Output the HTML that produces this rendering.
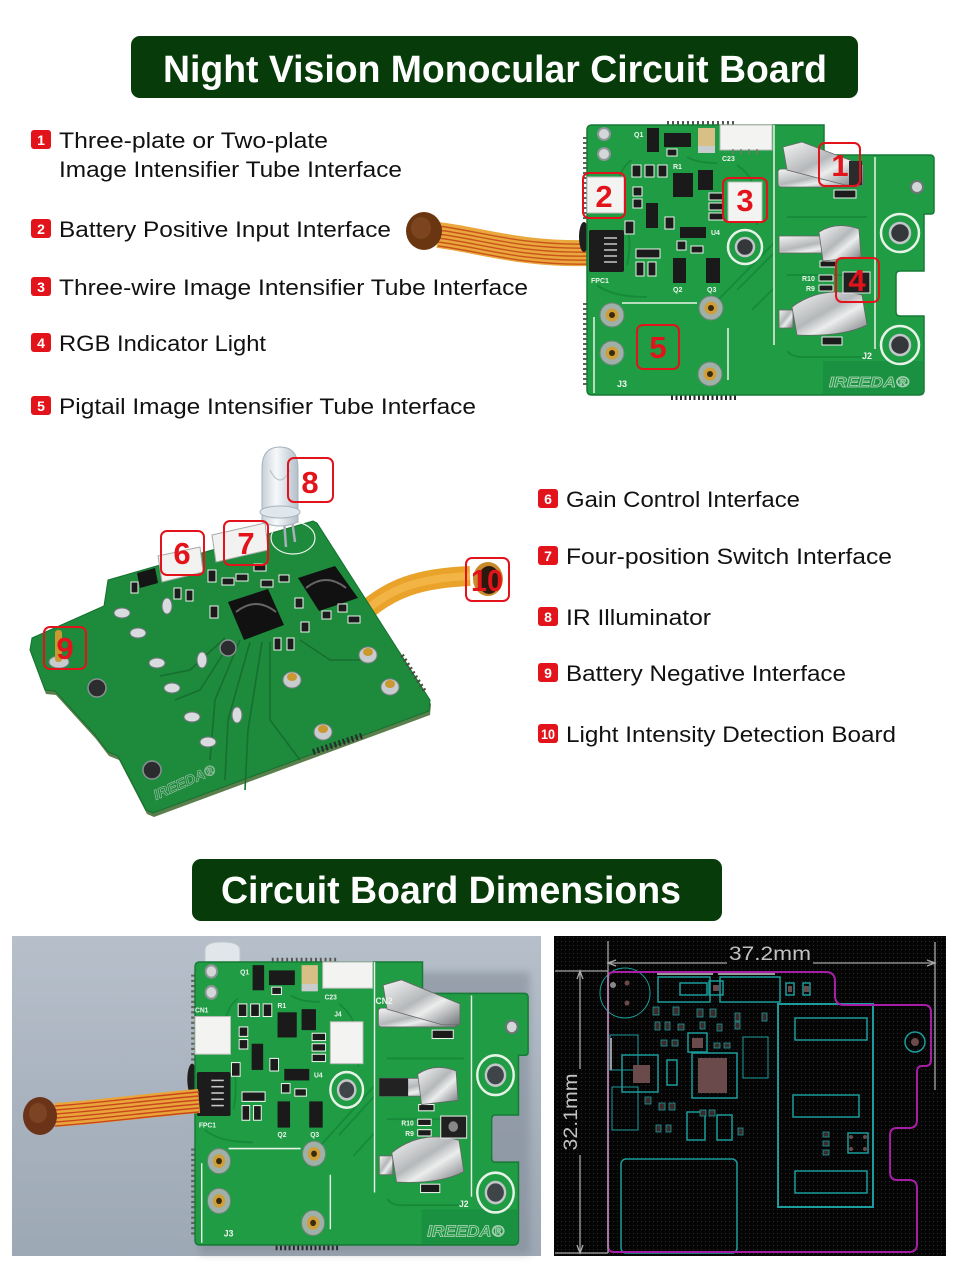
<!DOCTYPE html>
<html><head><meta charset="utf-8"><style>
html,body{margin:0;padding:0;background:#fff;}
svg{display:block;}
</style></head><body>
<svg width="960" height="1280" viewBox="0 0 960 1280" xmlns="http://www.w3.org/2000/svg">
<defs>
<linearGradient id="metal" x1="0" y1="0" x2="1" y2="1">
<stop offset="0" stop-color="#f4f4f4"/><stop offset=".45" stop-color="#b5b8ba"/><stop offset=".62" stop-color="#eceded"/><stop offset="1" stop-color="#72767a"/>
</linearGradient>
<linearGradient id="photo" x1="0" y1="0" x2="0" y2="1"><stop offset="0" stop-color="#b6bfca"/><stop offset="1" stop-color="#9da8b5"/></linearGradient>
<linearGradient id="led" x1="0" y1="0" x2="1" y2="0"><stop offset="0" stop-color="#c6d0d8"/><stop offset=".4" stop-color="#f6f9fb"/><stop offset="1" stop-color="#b3bfc9"/></linearGradient>
<pattern id="grid" width="4" height="4" patternUnits="userSpaceOnUse"><rect width="4" height="4" fill="#050505"/><rect x="1" y="1" width="1" height="1" fill="#2b2b2b"/></pattern>
<filter id="blur"><feGaussianBlur stdDeviation="4"/></filter>
</defs>

<!-- ===== Title 1 ===== -->
<rect x="131" y="36" width="727" height="62" rx="9" fill="#073b09"/>
<text x="163" y="82" font-family="Liberation Sans, sans-serif" font-weight="bold" font-size="38" fill="#fff" textLength="664" lengthAdjust="spacingAndGlyphs">Night Vision Monocular Circuit Board</text>

<!-- ===== Labels ===== -->
<g font-family="Liberation Sans, sans-serif" font-weight="bold" font-size="14" fill="#fff" text-anchor="middle">
<rect x="31" y="130" width="20" height="19" rx="3" fill="#e3131b"/><text x="41" y="145">1</text>
<rect x="31" y="219" width="20" height="19" rx="3" fill="#e3131b"/><text x="41" y="234">2</text>
<rect x="31" y="277" width="20" height="19" rx="3" fill="#e3131b"/><text x="41" y="292">3</text>
<rect x="31" y="333" width="20" height="19" rx="3" fill="#e3131b"/><text x="41" y="348">4</text>
<rect x="31" y="396" width="20" height="19" rx="3" fill="#e3131b"/><text x="41" y="411">5</text>
<rect x="538" y="489" width="20" height="19" rx="3" fill="#e3131b"/><text x="548" y="504">6</text>
<rect x="538" y="546" width="20" height="19" rx="3" fill="#e3131b"/><text x="548" y="561">7</text>
<rect x="538" y="607" width="20" height="19" rx="3" fill="#e3131b"/><text x="548" y="622">8</text>
<rect x="538" y="663" width="20" height="19" rx="3" fill="#e3131b"/><text x="548" y="678">9</text>
<rect x="538" y="724" width="20" height="19" rx="3" fill="#e3131b"/><text x="548" y="739" textLength="14" lengthAdjust="spacingAndGlyphs">10</text>
</g>
<g font-family="Liberation Sans, sans-serif" font-size="22" fill="#111">
<text x="59" y="148" textLength="269" lengthAdjust="spacingAndGlyphs">Three-plate or Two-plate</text>
<text x="59" y="177" textLength="343" lengthAdjust="spacingAndGlyphs">Image Intensifier Tube Interface</text>
<text x="59" y="237" textLength="332" lengthAdjust="spacingAndGlyphs">Battery Positive Input Interface</text>
<text x="59" y="295" textLength="469" lengthAdjust="spacingAndGlyphs">Three-wire Image Intensifier Tube Interface</text>
<text x="59" y="351" textLength="207" lengthAdjust="spacingAndGlyphs">RGB Indicator Light</text>
<text x="59" y="414" textLength="417" lengthAdjust="spacingAndGlyphs">Pigtail Image Intensifier Tube Interface</text>
<text x="566" y="507" textLength="234" lengthAdjust="spacingAndGlyphs">Gain Control Interface</text>
<text x="566" y="564" textLength="326" lengthAdjust="spacingAndGlyphs">Four-position Switch Interface</text>
<text x="566" y="625" textLength="145" lengthAdjust="spacingAndGlyphs">IR Illuminator</text>
<text x="566" y="681" textLength="280" lengthAdjust="spacingAndGlyphs">Battery Negative Interface</text>
<text x="566" y="742" textLength="330" lengthAdjust="spacingAndGlyphs">Light Intensity Detection Board</text>
</g>

<!-- ===== Top board FPC ===== -->
<path d="M438,235 C480,240 520,255 592,253" fill="none" stroke="#eaa73c" stroke-width="26"/>
<g fill="none" stroke="#c9541c" stroke-width="1.4">
<path d="M438,226 C480,231 520,246 592,244"/><path d="M438,230 C480,235 520,250 592,248"/><path d="M438,234 C480,239 520,254 592,252"/><path d="M438,238 C480,243 520,258 592,256"/><path d="M438,242 C480,247 520,262 592,260"/><path d="M438,246 C480,251 520,266 592,264"/>
</g>
<ellipse cx="424" cy="231" rx="18" ry="19" fill="#6a3612"/>
<ellipse cx="421" cy="228" rx="10" ry="11" fill="#7c4520"/>

<!-- ===== Top board ===== -->
<g transform="translate(587,125)">
<line x1="-2" y1="12" x2="-2" y2="95" stroke="#5f6458" stroke-width="4" stroke-dasharray="2 3"/>
<line x1="-2" y1="178" x2="-2" y2="262" stroke="#5f6458" stroke-width="4" stroke-dasharray="2 3"/>
<ellipse cx="-3" cy="112" rx="5" ry="15" fill="#1e1e1e"/>
<line x1="80" y1="-2" x2="150" y2="-2" stroke="#555" stroke-width="4" stroke-dasharray="2 3"/>
<line x1="84" y1="272" x2="150" y2="272" stroke="#2a2a2a" stroke-width="6" stroke-dasharray="2 2.5"/>
<path d="M5,0 H237 V27 Q237,30 240,30 H343 Q347,30 347,34 V86 Q347,89 344,89 H337 V146 H313 Q309,146 309,150 V187 Q309,191 313,191 H337 V265 Q337,270 332,270 H5 Q0,270 0,265 V5 Q0,0 5,0 Z" fill="#1f9c44" stroke="#177a35" stroke-width="1.5"/>
<path d="M236,236 H336 V265 Q336,269 332,269 H236 Z" fill="#1a9140"/>
<g fill="none" stroke="#168a3a" stroke-width="1.8">
<path d="M150,165 L187,128"/><path d="M128,178 L187,118"/><path d="M165,185 L187,163"/>
<path d="M200,150 H280"/><path d="M200,226 Q205,232 215,232 H282"/><path d="M200,92 H280"/>
<path d="M30,60 Q35,40 45,35"/><path d="M10,160 Q25,172 60,172"/><path d="M100,32 Q110,38 130,38"/>
<path d="M150,40 Q165,50 170,70 V100"/><path d="M40,100 Q45,120 40,140"/>
</g>
<g fill="none" stroke="#e8f3e8" stroke-width="1.5">
<path d="M187,0 V220"/><path d="M288,32 V224"/><path d="M35,178 H110"/><path d="M7,192 V268"/><path d="M141,203 V255"/>
<circle cx="313" cy="108" r="19" stroke-width="2.5"/><circle cx="313" cy="220" r="19" stroke-width="2.5"/><circle cx="158" cy="122" r="17" stroke-width="2.5"/>
</g>
<circle cx="313" cy="108" r="10" fill="#34383a" stroke="#c3c6c8" stroke-width="2.5"/>
<circle cx="313" cy="220" r="10" fill="#34383a" stroke="#c3c6c8" stroke-width="2.5"/>
<circle cx="158" cy="122" r="9" fill="#34383a" stroke="#c3c6c8" stroke-width="2.5"/>
<circle cx="17" cy="9" r="6" fill="#d4d7d8" stroke="#8e9597" stroke-width="2"/>
<circle cx="17" cy="29" r="6" fill="#d4d7d8" stroke="#8e9597" stroke-width="2"/>
<circle cx="330" cy="62" r="6" fill="#d4d7d8" stroke="#6e7577" stroke-width="2"/>
<rect x="60" y="3" width="12" height="24" fill="#1a1a1a"/>
<rect x="77" y="8" width="27" height="14" fill="#1a1a1a"/>
<rect x="111" y="3" width="17" height="18" fill="#d7bf85"/><rect x="111" y="21" width="17" height="7" fill="#c9cccf"/>
<rect x="133" y="0" width="52" height="25" fill="#f3f3f1" stroke="#b9bbb8"/>
<g stroke="#777" stroke-width="1.5"><line x1="146" y1="24" x2="146" y2="29"/><line x1="154" y1="24" x2="154" y2="29"/><line x1="162" y1="24" x2="162" y2="29"/><line x1="170" y1="24" x2="170" y2="29"/></g>
<rect x="0" y="52" width="37" height="36" fill="#f3f3f1" stroke="#b9bbb8"/>
<rect x="141" y="57" width="34" height="40" fill="#f3f3f1" stroke="#b9bbb8"/>
<rect x="2" y="105" width="35" height="42" rx="2" fill="#1c1c1c"/>
<g stroke="#c8c8c8" stroke-width="1.5"><line x1="17" y1="113" x2="30" y2="113"/><line x1="17" y1="119" x2="30" y2="119"/><line x1="17" y1="125" x2="30" y2="125"/><line x1="17" y1="131" x2="30" y2="131"/><line x1="17" y1="137" x2="30" y2="137"/></g>
<g fill="#1a1a1a">
<rect x="86" y="48" width="20" height="24"/><rect x="111" y="45" width="15" height="20"/><rect x="59" y="78" width="12" height="25"/><rect x="93" y="102" width="26" height="11"/><rect x="86" y="133" width="13" height="25"/><rect x="119" y="133" width="14" height="25"/>
</g>
<g fill="#1b1b1b" stroke="#eef5ee" stroke-width="1">
<rect x="45" y="40" width="9" height="12"/><rect x="58" y="40" width="9" height="12"/><rect x="71" y="40" width="9" height="12"/>
<rect x="46" y="62" width="9" height="9"/><rect x="46" y="74" width="9" height="9"/>
<rect x="122" y="68" width="14" height="7"/><rect x="122" y="78" width="14" height="7"/><rect x="122" y="88" width="14" height="7"/>
<rect x="38" y="96" width="9" height="13"/><rect x="78" y="92" width="9" height="12"/>
<rect x="49" y="124" width="24" height="9"/><rect x="49" y="137" width="8" height="14"/><rect x="61" y="137" width="8" height="14"/>
<rect x="104" y="121" width="12" height="7"/><rect x="90" y="116" width="9" height="9"/><rect x="80" y="24" width="10" height="7"/>
<rect x="232" y="150" width="14" height="6"/><rect x="232" y="160" width="14" height="6"/><rect x="232" y="170" width="14" height="6"/>
<rect x="247" y="65" width="22" height="8"/><rect x="233" y="136" width="16" height="6"/><rect x="235" y="212" width="20" height="8"/>
</g>
<rect x="191" y="44" width="82" height="18" rx="3" fill="url(#metal)" stroke="#666" stroke-width=".8"/>
<path d="M196,22 L215,17 L276,40 L276,60 L258,60 L200,45 Z" fill="url(#metal)" stroke="#666" stroke-width=".8"/>
<rect x="262" y="36" width="13" height="24" fill="#2b2b2b"/>
<rect x="192" y="111" width="80" height="17" fill="url(#metal)" stroke="#666" stroke-width=".8"/>
<path d="M232,107 Q250,96 272,104 L274,132 L236,136 Z" fill="url(#metal)" stroke="#666" stroke-width=".8"/>
<rect x="192" y="185" width="14" height="18" fill="url(#metal)" stroke="#666" stroke-width=".8"/>
<path d="M205,182 Q235,160 275,170 L280,200 Q255,212 210,210 Z" fill="url(#metal)" stroke="#666" stroke-width=".8"/>
<rect x="256" y="147" width="27" height="21" fill="#202020" stroke="#eee"/>
<g>
<circle cx="25" cy="190" r="12" fill="#9fb0a8" stroke="#6f8479"/><circle cx="25" cy="190" r="6.5" fill="#cf9f3a"/><circle cx="25" cy="190" r="3" fill="#3a2a10"/>
<circle cx="124" cy="183" r="12" fill="#9fb0a8" stroke="#6f8479"/><circle cx="124" cy="183" r="6.5" fill="#cf9f3a"/><circle cx="124" cy="183" r="3" fill="#3a2a10"/>
<circle cx="25" cy="228" r="12" fill="#9fb0a8" stroke="#6f8479"/><circle cx="25" cy="228" r="6.5" fill="#cf9f3a"/><circle cx="25" cy="228" r="3" fill="#3a2a10"/>
<circle cx="123" cy="249" r="12" fill="#9fb0a8" stroke="#6f8479"/><circle cx="123" cy="249" r="6.5" fill="#cf9f3a"/><circle cx="123" cy="249" r="3" fill="#3a2a10"/>
</g>
<g font-family="Liberation Sans, sans-serif" font-weight="bold" font-size="7" fill="#eef5ee">
<text x="47" y="12">Q1</text><text x="135" y="36">C23</text><text x="86" y="44">R1</text><text x="4" y="158">FPC1</text><text x="86" y="167">Q2</text><text x="120" y="167">Q3</text><text x="124" y="110">U4</text><text x="215" y="156">R10</text><text x="219" y="166">R9</text>
<text x="30" y="262" font-size="9">J3</text><text x="275" y="234" font-size="9">J2</text>
</g>
<text x="242" y="262" font-family="Liberation Sans, sans-serif" font-style="italic" font-weight="bold" font-size="15" fill="#1f9c44" stroke="#b8d6bf" stroke-width=".7" textLength="80" lengthAdjust="spacingAndGlyphs">IREEDA®</text>
</g>

<!-- Top board number boxes -->
<g fill="none" stroke="#e3131b" stroke-width="2">
<rect x="819" y="143" width="41" height="43" rx="6"/><rect x="583" y="173" width="42" height="45" rx="6"/><rect x="723" y="178" width="44" height="44" rx="6"/><rect x="836" y="258" width="43" height="44" rx="6"/><rect x="637" y="325" width="42" height="44" rx="6"/>
</g>

<!-- ===== Middle board ===== -->
<path d="M362,614 C390,588 420,578 470,576" fill="none" stroke="#e9a22a" stroke-width="20"/>
<path d="M362,614 C390,588 420,578 470,576" fill="none" stroke="#f2b545" stroke-width="8"/>
<ellipse cx="488" cy="579" rx="15" ry="17" fill="#c98a2a"/>
<ellipse cx="489" cy="580" rx="11" ry="14" fill="#2a1a0e"/>
<polygon points="109,584 314,525 318,527 431,704 430,715 154,817 147,814 119,760 109,756 96,739 56,695 46,694 31,654 33,642 105,610" fill="#5a7f4c"/>
<polygon points="108,580 313,521 317,523 430,700 429,711 153,813 146,810 118,756 108,752 95,735 55,691 45,690 30,650 32,638 104,606" fill="#1d8a3c" stroke="#16702f" stroke-width="1"/>
<line x1="402" y1="655" x2="426" y2="693" stroke="#4a4a40" stroke-width="4" stroke-dasharray="2 3"/>
<line x1="313" y1="752" x2="364" y2="735" stroke="#2a2a2a" stroke-width="6" stroke-dasharray="2 2.5"/>
<g fill="none" stroke="#166f2f" stroke-width="1.6">
<path d="M240,640 L215,700 L210,760"/><path d="M250,642 L228,720 L225,780"/><path d="M262,642 L248,730 L245,790"/>
<path d="M232,640 L200,690 L175,700"/><path d="M225,638 L190,670 L160,676"/><path d="M270,642 L270,720 L300,760"/>
<path d="M300,640 L330,660 L360,660"/>
</g>
<ellipse cx="293" cy="538" rx="22" ry="16" fill="none" stroke="#eef5ee" stroke-width="1.2"/>
<line x1="284" y1="520" x2="286" y2="547" stroke="#a9b0b8" stroke-width="2.5"/>
<line x1="292" y1="520" x2="295" y2="542" stroke="#a9b0b8" stroke-width="2.5"/>
<path d="M262,522 V468 Q262,447 280,447 Q298,447 298,468 V522 Q280,530 262,522 Z" fill="url(#led)" stroke="#a7b3bc"/>
<ellipse cx="280" cy="512" rx="20" ry="6" fill="#dfe7ec" stroke="#a7b3bc"/>
<path d="M270,470 Q280,490 290,470" fill="none" stroke="#b5c0c8"/>
<polygon points="158,556 200,547 203,572 162,582" fill="#f2f2f0" stroke="#a8aaa8"/>
<polygon points="212,535 265,523 268,550 216,562" fill="#f2f2f0" stroke="#a8aaa8"/>
<polygon points="137,573 155,568 158,583 140,588" fill="#151515"/>
<polygon points="228,602 268,589 284,625 244,640" fill="#111"/>
<path d="M236,612 Q256,596 276,612" fill="none" stroke="#666" stroke-width="2"/>
<polygon points="298,578 335,566 358,598 319,611" fill="#111"/>
<path d="M306,588 Q326,572 346,588" fill="none" stroke="#666" stroke-width="2"/>
<g fill="#1b1b1b" stroke="#eef5ee" stroke-width="1">
<rect x="131" y="582" width="7" height="11"/><rect x="174" y="588" width="7" height="11"/><rect x="186" y="590" width="7" height="11"/><rect x="208" y="570" width="8" height="12"/><rect x="222" y="578" width="12" height="7"/><rect x="236" y="574" width="12" height="7"/><rect x="254" y="564" width="12" height="7"/><rect x="261" y="580" width="12" height="7"/><rect x="210" y="606" width="8" height="12"/><rect x="274" y="638" width="7" height="12"/><rect x="287" y="638" width="7" height="12"/><rect x="279" y="575" width="10" height="7"/><rect x="295" y="598" width="8" height="10"/><rect x="301" y="622" width="8" height="10"/><rect x="322" y="611" width="9" height="8"/><rect x="338" y="604" width="9" height="8"/><rect x="348" y="616" width="12" height="7"/>
</g>
<circle cx="97" cy="688" r="9" fill="#2a2c2e" stroke="#8a9094" stroke-width="1.5"/>
<circle cx="228" cy="648" r="8" fill="#2a2c2e" stroke="#8a9094" stroke-width="1.5"/>
<circle cx="152" cy="770" r="9" fill="#2a2c2e" stroke="#8a9094" stroke-width="1.5"/>
<g fill="#d9dcdf" stroke="#6f777a" stroke-width="1">
<ellipse cx="122" cy="613" rx="8" ry="5"/><ellipse cx="167" cy="606" rx="5" ry="8"/><ellipse cx="138" cy="633" rx="8" ry="5"/><ellipse cx="157" cy="663" rx="8" ry="5"/><ellipse cx="202" cy="660" rx="5" ry="8"/><ellipse cx="172" cy="688" rx="8" ry="5"/><ellipse cx="192" cy="717" rx="8" ry="5"/><ellipse cx="237" cy="715" rx="5" ry="8"/><ellipse cx="208" cy="742" rx="8" ry="5"/>
</g>
<g>
<ellipse cx="368" cy="655" rx="9" ry="8" fill="#c8ccce" stroke="#7b8285"/><ellipse cx="368" cy="652" rx="5" ry="4" fill="#c9982f"/>
<ellipse cx="292" cy="680" rx="9" ry="8" fill="#c8ccce" stroke="#7b8285"/><ellipse cx="292" cy="677" rx="5" ry="4" fill="#c9982f"/>
<ellipse cx="390" cy="687" rx="9" ry="8" fill="#c8ccce" stroke="#7b8285"/><ellipse cx="390" cy="684" rx="5" ry="4" fill="#c9982f"/>
<ellipse cx="323" cy="732" rx="9" ry="8" fill="#c8ccce" stroke="#7b8285"/><ellipse cx="323" cy="729" rx="5" ry="4" fill="#c9982f"/>
<ellipse cx="59" cy="662" rx="10" ry="6" fill="#c8ccce" stroke="#7b8285"/><rect x="55" y="630" width="7" height="32" rx="3" fill="#c9982f"/>
</g>
<text transform="translate(156,800) rotate(-24)" font-family="Liberation Sans, sans-serif" font-style="italic" font-weight="bold" font-size="14" fill="#1d8a3c" stroke="#9fc2a8" stroke-width=".6" textLength="66" lengthAdjust="spacingAndGlyphs">IREEDA®</text>

<!-- Middle board number boxes (on top) -->
<g fill="none" stroke="#e3131b" stroke-width="2">
<rect x="161" y="531" width="43" height="44" rx="6"/><rect x="224" y="521" width="44" height="44" rx="6"/><rect x="288" y="458" width="45" height="44" rx="6"/><rect x="44" y="627" width="42" height="42" rx="6"/><rect x="466" y="558" width="43" height="43" rx="6"/>
</g>

<!-- Number digits -->
<g font-family="Liberation Sans, sans-serif" font-weight="bold" font-size="31" fill="#e3131b" text-anchor="middle">
<text x="840" y="176">1</text><text x="604" y="207">2</text><text x="745" y="211">3</text><text x="857" y="291">4</text><text x="658" y="358">5</text>
<text x="182" y="564">6</text><text x="246" y="554">7</text><text x="310" y="493">8</text><text x="65" y="659">9</text><text x="487" y="591" textLength="32" lengthAdjust="spacingAndGlyphs">10</text>
</g>

<!-- ===== Title 2 ===== -->
<rect x="192" y="859" width="530" height="62" rx="9" fill="#073b09"/>
<text x="221" y="903" font-family="Liberation Sans, sans-serif" font-weight="bold" font-size="38" fill="#fff" textLength="460" lengthAdjust="spacingAndGlyphs">Circuit Board Dimensions</text>

<!-- ===== Bottom photo ===== -->
<rect x="12" y="936" width="529" height="320" fill="url(#photo)"/>
<rect x="200" y="972" width="330" height="282" fill="#7c8591" opacity=".5" filter="url(#blur)"/>
<path d="M205,962 V950 Q205,942 222,942 Q240,942 240,950 V962 Z" fill="#e1e6ea" stroke="#c0c8cf"/>
<g transform="translate(195,962) scale(0.96,1.048)">
<line x1="-2" y1="12" x2="-2" y2="95" stroke="#5f6458" stroke-width="4" stroke-dasharray="2 3"/>
<line x1="-2" y1="178" x2="-2" y2="262" stroke="#5f6458" stroke-width="4" stroke-dasharray="2 3"/>
<ellipse cx="-3" cy="112" rx="5" ry="15" fill="#1e1e1e"/>
<line x1="80" y1="-2" x2="150" y2="-2" stroke="#555" stroke-width="4" stroke-dasharray="2 3"/>
<line x1="84" y1="272" x2="150" y2="272" stroke="#2a2a2a" stroke-width="6" stroke-dasharray="2 2.5"/>
<path d="M5,0 H237 V27 Q237,30 240,30 H343 Q347,30 347,34 V86 Q347,89 344,89 H337 V146 H313 Q309,146 309,150 V187 Q309,191 313,191 H337 V265 Q337,270 332,270 H5 Q0,270 0,265 V5 Q0,0 5,0 Z" fill="#1f9c44" stroke="#177a35" stroke-width="1.5"/>
<path d="M236,236 H336 V265 Q336,269 332,269 H236 Z" fill="#1a9140"/>
<g fill="none" stroke="#168a3a" stroke-width="1.8">
<path d="M150,165 L187,128"/><path d="M128,178 L187,118"/><path d="M165,185 L187,163"/>
<path d="M200,150 H280"/><path d="M200,226 Q205,232 215,232 H282"/><path d="M200,92 H280"/>
<path d="M30,60 Q35,40 45,35"/><path d="M10,160 Q25,172 60,172"/><path d="M100,32 Q110,38 130,38"/>
<path d="M150,40 Q165,50 170,70 V100"/><path d="M40,100 Q45,120 40,140"/>
</g>
<g fill="none" stroke="#e8f3e8" stroke-width="1.5">
<path d="M187,0 V220"/><path d="M288,32 V224"/><path d="M35,178 H110"/><path d="M7,192 V268"/><path d="M141,203 V255"/>
<circle cx="313" cy="108" r="19" stroke-width="2.5"/><circle cx="313" cy="220" r="19" stroke-width="2.5"/><circle cx="158" cy="122" r="17" stroke-width="2.5"/>
</g>
<circle cx="313" cy="108" r="10" fill="#3f4448" stroke="#c3c6c8" stroke-width="2.5"/>
<circle cx="313" cy="220" r="10" fill="#3f4448" stroke="#c3c6c8" stroke-width="2.5"/>
<circle cx="158" cy="122" r="9" fill="#3f4448" stroke="#c3c6c8" stroke-width="2.5"/>
<circle cx="17" cy="9" r="6" fill="#d4d7d8" stroke="#8e9597" stroke-width="2"/>
<circle cx="17" cy="29" r="6" fill="#d4d7d8" stroke="#8e9597" stroke-width="2"/>
<circle cx="330" cy="62" r="6" fill="#d4d7d8" stroke="#6e7577" stroke-width="2"/>
<rect x="60" y="3" width="12" height="24" fill="#1a1a1a"/>
<rect x="77" y="8" width="27" height="14" fill="#1a1a1a"/>
<rect x="111" y="3" width="17" height="18" fill="#d7bf85"/><rect x="111" y="21" width="17" height="7" fill="#c9cccf"/>
<rect x="133" y="0" width="52" height="25" fill="#f3f3f1" stroke="#b9bbb8"/>
<rect x="0" y="52" width="37" height="36" fill="#f3f3f1" stroke="#b9bbb8"/>
<rect x="141" y="57" width="34" height="40" fill="#f3f3f1" stroke="#b9bbb8"/>
<rect x="2" y="105" width="35" height="42" rx="2" fill="#1c1c1c"/>
<g stroke="#c8c8c8" stroke-width="1.5"><line x1="17" y1="113" x2="30" y2="113"/><line x1="17" y1="119" x2="30" y2="119"/><line x1="17" y1="125" x2="30" y2="125"/><line x1="17" y1="131" x2="30" y2="131"/><line x1="17" y1="137" x2="30" y2="137"/></g>
<g fill="#1a1a1a">
<rect x="86" y="48" width="20" height="24"/><rect x="111" y="45" width="15" height="20"/><rect x="59" y="78" width="12" height="25"/><rect x="93" y="102" width="26" height="11"/><rect x="86" y="133" width="13" height="25"/><rect x="119" y="133" width="14" height="25"/>
</g>
<g fill="#1b1b1b" stroke="#eef5ee" stroke-width="1">
<rect x="45" y="40" width="9" height="12"/><rect x="58" y="40" width="9" height="12"/><rect x="71" y="40" width="9" height="12"/>
<rect x="46" y="62" width="9" height="9"/><rect x="46" y="74" width="9" height="9"/>
<rect x="122" y="68" width="14" height="7"/><rect x="122" y="78" width="14" height="7"/><rect x="122" y="88" width="14" height="7"/>
<rect x="38" y="96" width="9" height="13"/><rect x="78" y="92" width="9" height="12"/>
<rect x="49" y="124" width="24" height="9"/><rect x="49" y="137" width="8" height="14"/><rect x="61" y="137" width="8" height="14"/>
<rect x="104" y="121" width="12" height="7"/><rect x="90" y="116" width="9" height="9"/><rect x="80" y="24" width="10" height="7"/>
<rect x="232" y="150" width="14" height="6"/><rect x="232" y="160" width="14" height="6"/><rect x="232" y="170" width="14" height="6"/>
<rect x="247" y="65" width="22" height="8"/><rect x="233" y="136" width="16" height="6"/><rect x="235" y="212" width="20" height="8"/>
</g>
<rect x="191" y="44" width="82" height="18" rx="3" fill="url(#metal)" stroke="#666" stroke-width=".8"/>
<path d="M196,22 L215,17 L276,40 L276,60 L258,60 L200,45 Z" fill="url(#metal)" stroke="#666" stroke-width=".8"/>
<rect x="192" y="111" width="80" height="17" fill="url(#metal)" stroke="#666" stroke-width=".8"/>
<rect x="192" y="111" width="30" height="17" fill="#222"/>
<path d="M232,107 Q250,96 272,104 L274,132 L236,136 Z" fill="url(#metal)" stroke="#666" stroke-width=".8"/>
<rect x="192" y="185" width="14" height="18" fill="url(#metal)" stroke="#666" stroke-width=".8"/>
<path d="M205,182 Q235,160 275,170 L280,200 Q255,212 210,210 Z" fill="url(#metal)" stroke="#666" stroke-width=".8"/>
<rect x="256" y="147" width="27" height="21" fill="#202020" stroke="#eee"/>
<circle cx="269" cy="157" r="5" fill="#888"/>
<g>
<circle cx="25" cy="190" r="12" fill="#9fb0a8" stroke="#6f8479"/><circle cx="25" cy="190" r="6.5" fill="#cf9f3a"/><circle cx="25" cy="190" r="3" fill="#3a2a10"/>
<circle cx="124" cy="183" r="12" fill="#9fb0a8" stroke="#6f8479"/><circle cx="124" cy="183" r="6.5" fill="#cf9f3a"/><circle cx="124" cy="183" r="3" fill="#3a2a10"/>
<circle cx="25" cy="228" r="12" fill="#9fb0a8" stroke="#6f8479"/><circle cx="25" cy="228" r="6.5" fill="#cf9f3a"/><circle cx="25" cy="228" r="3" fill="#3a2a10"/>
<circle cx="123" cy="249" r="12" fill="#9fb0a8" stroke="#6f8479"/><circle cx="123" cy="249" r="6.5" fill="#cf9f3a"/><circle cx="123" cy="249" r="3" fill="#3a2a10"/>
</g>
<g font-family="Liberation Sans, sans-serif" font-weight="bold" font-size="7" fill="#eef5ee">
<text x="47" y="12">Q1</text><text x="135" y="36">C23</text><text x="86" y="44">R1</text><text x="4" y="158">FPC1</text><text x="86" y="167">Q2</text><text x="120" y="167">Q3</text><text x="124" y="110">U4</text><text x="215" y="156">R10</text><text x="219" y="166">R9</text><text x="188" y="40" font-size="9">CN2</text><text x="0" y="48">CN1</text><text x="145" y="52">J4</text>
<text x="30" y="262" font-size="9">J3</text><text x="275" y="234" font-size="9">J2</text>
</g>
<text x="242" y="262" font-family="Liberation Sans, sans-serif" font-style="italic" font-weight="bold" font-size="15" fill="#1f9c44" stroke="#b8d6bf" stroke-width=".7" textLength="80" lengthAdjust="spacingAndGlyphs">IREEDA®</text>
</g>
<path d="M55,1115 C100,1112 150,1105 199,1101" fill="none" stroke="#e9a53a" stroke-width="24"/>
<g fill="none" stroke="#c9451c" stroke-width="1.4">
<path d="M55,1106 C100,1103 150,1096 199,1092"/><path d="M55,1110 C100,1107 150,1100 199,1096"/><path d="M55,1114 C100,1111 150,1104 199,1100"/><path d="M55,1118 C100,1115 150,1108 199,1104"/><path d="M55,1122 C100,1119 150,1112 199,1108"/><path d="M55,1126 C100,1123 150,1116 199,1112"/>
</g>
<ellipse cx="40" cy="1116" rx="17" ry="19" fill="#6b3418"/>
<ellipse cx="38" cy="1113" rx="9" ry="10" fill="#7d4424"/>

<!-- ===== CAD ===== -->
<rect x="554" y="936" width="392" height="320" fill="url(#grid)"/>
<g fill="none" stroke="#1b9b9b" stroke-width="1.5">
<rect x="778" y="1004" width="95" height="203" stroke-width="2"/>
<rect x="795" y="1018" width="72" height="22"/><rect x="793" y="1095" width="66" height="22"/><rect x="795" y="1171" width="72" height="22"/>
<rect x="621" y="1159" width="116" height="94" rx="5"/>
<circle cx="625" cy="993" r="25" stroke-width="1"/>
<circle cx="915" cy="1042" r="10"/>
<rect x="658" y="977" width="52" height="25"/><rect x="720" y="977" width="60" height="25"/><rect x="680" y="983" width="27" height="12"/>
<rect x="709" y="981" width="14" height="14"/><rect x="786" y="983" width="8" height="12"/><rect x="803" y="983" width="7" height="12"/>
<rect x="692" y="1053" width="45" height="45"/><rect x="622" y="1055" width="36" height="37"/>
<rect x="610" y="1035" width="28" height="35" stroke-width="1"/><rect x="612" y="1087" width="26" height="43" stroke-width="1"/>
<rect x="743" y="1037" width="25" height="41" stroke-width="1"/><rect x="688" y="1033" width="19" height="19"/>
<rect x="687" y="1112" width="18" height="28"/><rect x="717" y="1115" width="15" height="25"/><rect x="667" y="1060" width="10" height="25"/>
<rect x="848" y="1133" width="20" height="20"/>
</g>
<g fill="#6a4a4a">
<rect x="698" y="1058" width="29" height="35"/><rect x="633" y="1065" width="17" height="18"/><rect x="692" y="1038" width="11" height="10"/>
<rect x="713" y="985" width="6" height="6"/><rect x="788" y="986" width="4" height="6"/><rect x="804" y="986" width="5" height="6"/>
<circle cx="627" cy="983" r="2.5"/><circle cx="627" cy="1003" r="2.5"/><circle cx="915" cy="1042" r="4"/>
<circle cx="851" cy="1137" r="2"/><circle cx="865" cy="1137" r="2"/><circle cx="851" cy="1149" r="2"/><circle cx="865" cy="1149" r="2"/>
</g>
<g fill="#3b2a2a" stroke="#1b9b9b" stroke-width=".8">
<rect x="823" y="1132" width="6" height="5"/><rect x="823" y="1141" width="6" height="5"/><rect x="823" y="1150" width="6" height="5"/>
<rect x="653" y="1007" width="6" height="8"/><rect x="673" y="1007" width="6" height="8"/><rect x="697" y="1009" width="6" height="8"/><rect x="710" y="1009" width="6" height="8"/><rect x="735" y="1013" width="5" height="8"/><rect x="762" y="1013" width="5" height="8"/>
<rect x="655" y="1022" width="5" height="8"/><rect x="665" y="1022" width="5" height="8"/><rect x="678" y="1024" width="6" height="6"/><rect x="700" y="1022" width="5" height="7"/><rect x="717" y="1024" width="5" height="7"/><rect x="735" y="1022" width="5" height="7"/>
<rect x="661" y="1040" width="6" height="6"/><rect x="672" y="1040" width="6" height="6"/><rect x="714" y="1043" width="6" height="5"/><rect x="724" y="1043" width="6" height="5"/>
<rect x="659" y="1103" width="6" height="7"/><rect x="669" y="1103" width="6" height="7"/><rect x="645" y="1097" width="6" height="7"/><rect x="656" y="1125" width="5" height="7"/><rect x="666" y="1125" width="5" height="7"/>
<rect x="700" y="1110" width="6" height="6"/><rect x="709" y="1110" width="6" height="6"/><rect x="738" y="1128" width="5" height="7"/>
</g>
<circle cx="613" cy="985" r="3" fill="#888"/>
<line x1="657" y1="974" x2="713" y2="974" stroke="#9a9a9a" stroke-width="2"/>
<line x1="718" y1="974" x2="775" y2="974" stroke="#9a9a9a" stroke-width="2"/>
<line x1="611" y1="1038" x2="611" y2="1070" stroke="#9a9a9a" stroke-width="2"/>
<path d="M614,972 H826 Q834,972 835,980 V997 Q836,1005 844,1005 H924 Q931,1005 931,1012 V1060 Q931,1066 925,1066 H922 Q917,1066 917,1072 V1120 Q917,1128 909,1128 H897 Q890,1128 890,1135 V1172 Q890,1180 897,1180 H909 Q917,1180 917,1188 V1244 Q917,1252 909,1252 H614 Q608,1252 608,1246 V978 Q608,972 614,972 Z" fill="none" stroke="#a51ea5" stroke-width="2"/>
<g stroke="#a9a9a9" stroke-width="1.3" fill="none">
<line x1="608" y1="941" x2="608" y2="1253"/>
<line x1="935" y1="942" x2="935" y2="1090"/>
<line x1="555" y1="971" x2="608" y2="971"/>
<line x1="555" y1="1253" x2="608" y2="1253"/>
<line x1="608" y1="963" x2="727" y2="963"/>
<line x1="813" y1="963" x2="935" y2="963"/>
<line x1="580" y1="971" x2="580" y2="1069"/>
<line x1="580" y1="1155" x2="580" y2="1253"/>
<path d="M616,960 L608,963 L616,966"/><path d="M927,960 L935,963 L927,966"/>
<path d="M577,979 L580,971 L583,979"/><path d="M577,1245 L580,1253 L583,1245"/>
</g>
<text x="770" y="960" font-family="Liberation Sans, sans-serif" font-size="19" fill="#c2c2c2" text-anchor="middle" textLength="82" lengthAdjust="spacingAndGlyphs">37.2mm</text>
<text transform="translate(577,1112) rotate(-90)" font-family="Liberation Sans, sans-serif" font-size="19" fill="#c2c2c2" text-anchor="middle" textLength="77" lengthAdjust="spacingAndGlyphs">32.1mm</text>
</svg>
</body></html>
